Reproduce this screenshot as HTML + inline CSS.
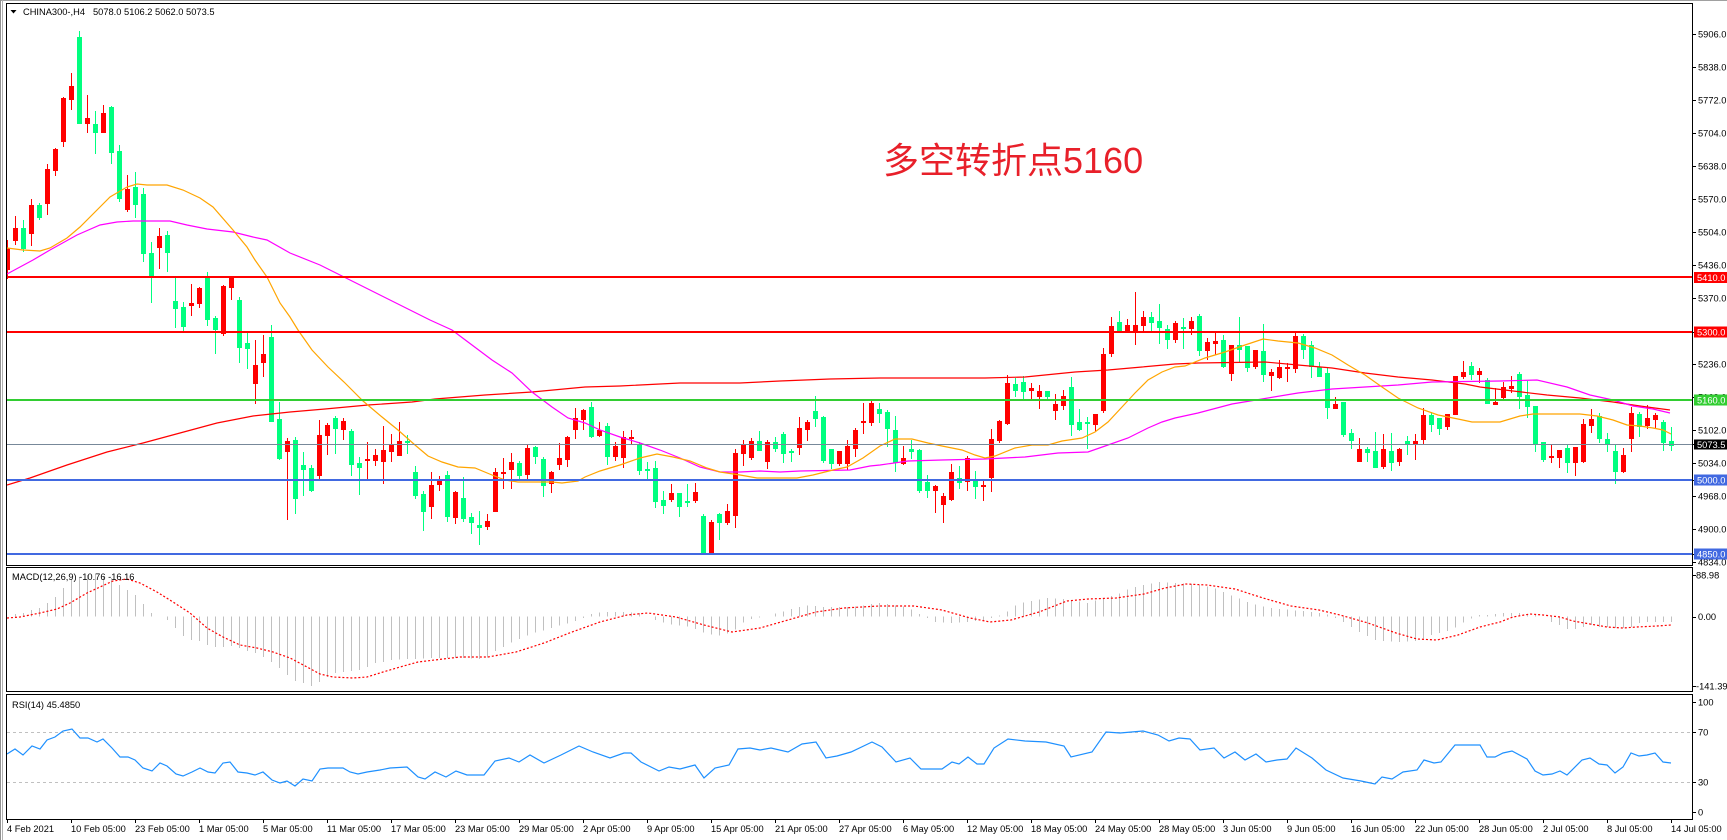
<!DOCTYPE html>
<html><head><meta charset="utf-8">
<style>
html,body{margin:0;padding:0;background:#fff;}
svg{display:block;}
text{font-family:"Liberation Sans","Noto Sans CJK SC",sans-serif;font-size:9.3px;fill:#000;}
.w{fill:#fff;}
</style></head><body>
<svg id="s" width="1727" height="840" viewBox="0 0 1727 840" xmlns="http://www.w3.org/2000/svg">
<defs>
<clipPath id="cm"><rect x="7" y="4" width="1685" height="561"/></clipPath>
<clipPath id="cd"><rect x="7" y="568" width="1685" height="123"/></clipPath>
<clipPath id="cr"><rect x="7" y="695" width="1685" height="124"/></clipPath>
</defs>
<rect width="1727" height="840" fill="#fff"/>
<g id="main" clip-path="url(#cm)"></g>
<g id="macd" clip-path="url(#cd)"></g>
<g id="rsi" clip-path="url(#cr)"></g>

<!-- horizontal level lines -->
<g shape-rendering="crispEdges">
<rect x="7" y="276" width="1685" height="2" fill="#ff0000"/>
<rect x="7" y="331" width="1685" height="2" fill="#ff0000"/>
<rect x="7" y="399" width="1685" height="2" fill="#32cd32"/>
<rect x="7" y="444" width="1685" height="1" fill="#778899"/>
<rect x="7" y="479" width="1685" height="2" fill="#4169e1"/>
<rect x="7" y="553" width="1685" height="2" fill="#4169e1"/>
</g>

<!-- frames -->
<g fill="none" stroke="#000" stroke-width="1" shape-rendering="crispEdges">
<line x1="0" y1="0.5" x2="1727" y2="0.5" stroke="#a0a0a0"/>
<line x1="0.5" y1="0" x2="0.5" y2="840" stroke="#909090"/>
<line x1="2.5" y1="0" x2="2.5" y2="840" stroke="#b0b0b0"/>
<rect x="6.5" y="3.5" width="1686" height="562"/>
<rect x="6.5" y="567.5" width="1686" height="124"/>
<rect x="6.5" y="694.5" width="1686" height="125"/>
</g>

<!-- header -->
<polygon points="10.5,10 16.5,10 13.5,13.5" fill="#000"/>
<text x="23" y="15">CHINA300-,H4</text>
<text x="93" y="15">5078.0 5106.2 5062.0 5073.5</text>
<text x="12" y="580">MACD(12,26,9) -10.76 -16.16</text>
<text x="12" y="708">RSI(14) 45.4850</text>

<text x="883" y="173" style="font-size:36px;fill:#e8202a;font-family:'Liberation Sans','Noto Sans CJK SC',sans-serif;">多空转折点5160</text>

<!-- right axis ticks -->
<g stroke="#000" stroke-width="1" shape-rendering="crispEdges" id="ticks"></g>
<g>
<text x="1698" y="37.5">5906.0</text>
<text x="1698" y="70.5">5838.0</text>
<text x="1698" y="103.5">5772.0</text>
<text x="1698" y="136.5">5704.0</text>
<text x="1698" y="169.5">5638.0</text>
<text x="1698" y="202.5">5570.0</text>
<text x="1698" y="235.5">5504.0</text>
<text x="1698" y="268.5">5436.0</text>
<text x="1698" y="301.5">5370.0</text>
<text x="1698" y="367.5">5236.0</text>
<text x="1698" y="400.5">5168.0</text>
<text x="1698" y="433.5">5102.0</text>
<text x="1698" y="466.5">5034.0</text>
<text x="1698" y="499.5">4968.0</text>
<text x="1698" y="532.5">4900.0</text>
<text x="1698" y="565.5">4834.0</text>
</g>
<g shape-rendering="crispEdges">
<rect x="1694" y="272" width="33" height="11" fill="#ff0000"/>
<rect x="1694" y="326.5" width="33" height="11" fill="#ff0000"/>
<rect x="1694" y="394.5" width="33" height="11" fill="#32cd32"/>
<rect x="1694" y="439.5" width="33" height="10" fill="#000000"/>
<rect x="1694" y="474.5" width="33" height="11" fill="#4169e1"/>
<rect x="1694" y="548.5" width="33" height="11" fill="#4169e1"/>
</g>
<text class="w" x="1697" y="281">5410.0</text>
<text class="w" x="1697" y="335.5">5300.0</text>
<text class="w" x="1697" y="403.5">5160.0</text>
<text class="w" x="1697" y="448">5073.5</text>
<text class="w" x="1697" y="483.5">5000.0</text>
<text class="w" x="1697" y="557.5">4850.0</text>

<text x="1696" y="578.5">88.98</text>
<text x="1698" y="620">0.00</text>
<text x="1696" y="689.5">-141.39</text>
<text x="1698" y="705.5">100</text>
<text x="1698" y="735.5">70</text>
<text x="1698" y="785.5">30</text>
<text x="1698" y="815.5">0</text>

<!-- x axis -->
<g id="xt" stroke="#000" stroke-width="1" shape-rendering="crispEdges"></g>
<g>
<text x="7" y="832">4 Feb 2021</text>
<text x="71" y="832">10 Feb 05:00</text>
<text x="135" y="832">23 Feb 05:00</text>
<text x="199" y="832">1 Mar 05:00</text>
<text x="263" y="832">5 Mar 05:00</text>
<text x="327" y="832">11 Mar 05:00</text>
<text x="391" y="832">17 Mar 05:00</text>
<text x="455" y="832">23 Mar 05:00</text>
<text x="519" y="832">29 Mar 05:00</text>
<text x="583" y="832">2 Apr 05:00</text>
<text x="647" y="832">9 Apr 05:00</text>
<text x="711" y="832">15 Apr 05:00</text>
<text x="775" y="832">21 Apr 05:00</text>
<text x="839" y="832">27 Apr 05:00</text>
<text x="903" y="832">6 May 05:00</text>
<text x="967" y="832">12 May 05:00</text>
<text x="1031" y="832">18 May 05:00</text>
<text x="1095" y="832">24 May 05:00</text>
<text x="1159" y="832">28 May 05:00</text>
<text x="1223" y="832">3 Jun 05:00</text>
<text x="1287" y="832">9 Jun 05:00</text>
<text x="1351" y="832">16 Jun 05:00</text>
<text x="1415" y="832">22 Jun 05:00</text>
<text x="1479" y="832">28 Jun 05:00</text>
<text x="1543" y="832">2 Jul 05:00</text>
<text x="1607" y="832">8 Jul 05:00</text>
<text x="1671" y="832">14 Jul 05:00</text>
</g>
</svg>
<script>
(function(){
var NS="http://www.w3.org/2000/svg";
function el(p,t,a){var e=document.createElementNS(NS,t);for(var k in a)e.setAttribute(k,a[k]);p.appendChild(e);return e;}
var C=[[1,248,269,240,278],[1,228,240,216,244],[0,228,248,220,251],[1,205,233,199,245],[0,205,217,203,219],[1,169,203,164,214],[1,149,170,148,175],[1,98,141,97,146],[1,86,99,73,109],[0,37,123,31,123],
[1,118,123,95,132],[0,124,132,111,153],[1,113,132,105,132],[0,107,152,106,163],[0,151,198,145,201],[1,189,209,175,211],[0,187,204,172,217],[0,194,253,188,261],[0,253,275,242,302],[1,236,247,228,268],
[0,235,252,231,271],[0,301,308,278,327],[0,307,326,302,332],[1,303,305,284,315],[1,288,303,287,307],[0,278,319,272,325],[0,318,329,316,353],[1,286,333,285,335],[1,278,287,276,299],[0,300,347,297,362],
[0,343,348,333,368],[1,365,383,340,403],[1,354,362,335,376],[0,337,421,325,421],[0,419,458,402,459],[1,441,451,438,519],[0,440,498,437,513],[0,465,469,452,495],[0,468,490,465,491],[1,435,475,420,478],
[1,425,435,423,454],[0,418,428,416,453],[1,421,429,418,439],[0,431,464,429,475],[0,463,467,457,494],[1,459,460,442,479],[1,455,460,449,465],[1,450,461,426,483],[1,444,451,434,461],[1,441,455,422,455],
[0,441,442,435,453],[0,472,495,466,498],[0,494,511,491,530],[1,485,506,472,518],[1,480,484,476,490],[0,475,516,471,521],[1,492,517,491,523],[0,498,518,477,521],[0,517,522,513,533],[0,525,527,511,544],
[1,521,526,514,529],[1,472,511,468,511],[1,472,473,458,488],[1,462,469,453,488],[0,463,475,461,480],[1,448,474,444,479],[0,447,456,446,463],[0,459,485,457,496],[1,472,483,471,492],[1,458,464,443,469],
[1,437,459,436,466],[1,418,429,408,438],[1,410,419,409,429],[0,407,436,402,437],[1,430,435,422,436],[0,426,456,423,464],[1,446,456,442,460],[1,437,457,431,467],[1,437,438,430,443],[0,444,470,442,474],
[0,469,470,462,479],[0,468,501,461,507],[0,500,505,491,513],[1,493,499,484,501],[0,493,506,493,516],[0,501,502,484,506],[1,492,500,483,502],[0,516,552,514,552],[1,522,552,520,552],[0,514,522,513,539],
[1,511,522,504,524],[1,453,515,449,527],[1,444,453,440,465],[1,441,457,438,459],[0,441,450,431,450],[1,442,461,440,468],[0,442,448,437,451],[0,434,453,432,462],[0,451,452,449,461],[1,428,447,417,454],
[1,422,429,420,440],[0,411,418,396,426],[0,417,460,416,462],[0,449,463,449,468],[1,451,463,451,465],[1,446,463,440,469],[1,430,448,428,456],[1,421,422,403,433],[1,403,422,399,425],[0,409,413,403,422],
[0,412,428,410,446],[0,430,462,416,471],[1,458,463,446,464],[0,449,451,440,458],[0,450,490,449,492],[0,482,490,475,497],[1,486,490,485,512],[1,496,504,493,522],[1,472,499,464,500],[0,478,482,466,488],
[1,458,481,456,490],[0,480,486,471,498],[1,485,486,481,500],[1,439,477,429,491],[1,421,440,420,442],[1,383,423,375,424],[0,384,390,378,396],[0,382,391,376,399],[1,388,390,383,399],[1,391,396,385,408],
[0,391,396,391,399],[1,404,410,394,419],[1,396,405,390,409],[0,387,424,377,435],[0,422,429,409,430],[0,422,423,417,448],[1,414,424,414,430],[1,354,410,348,412],[1,326,353,317,356],[0,322,330,311,332],
[1,325,331,319,332],[1,325,330,292,344],[1,317,325,311,332],[0,317,322,312,332],[0,321,327,304,343],[0,329,339,325,348],[1,323,339,321,342],[0,327,328,318,348],[1,321,328,317,334],[0,316,350,314,355],
[1,342,350,338,359],[1,341,343,332,354],[0,340,366,335,367],[1,345,373,345,380],[0,345,349,317,362],[0,346,367,346,371],[1,350,366,350,368],[0,351,374,324,381],[1,372,375,369,390],[1,367,377,360,378],
[1,367,368,363,381],[1,336,368,332,372],[0,336,349,334,358],[0,345,366,341,377],[0,367,376,362,376],[0,373,407,368,418],[1,404,408,397,408],[0,402,434,402,436],[0,433,440,429,448],[1,449,461,438,461],
[0,449,452,447,461],[0,451,467,432,467],[1,449,466,434,468],[0,451,462,433,470],[1,449,461,448,465],[0,441,444,436,454],[1,441,444,434,459],[1,415,439,408,444],[0,415,424,412,431],[0,418,428,418,434],
[1,414,426,414,429],[1,376,414,376,414],[1,372,376,361,378],[0,366,374,362,379],[1,371,374,368,382],[0,380,403,378,403],[1,402,404,388,404],[1,387,397,382,398],[1,386,388,376,392],[0,374,396,372,408],
[0,395,406,381,417],[0,406,443,406,451],[0,442,459,442,461],[1,456,457,445,462],[1,450,457,450,467],[0,448,462,445,472],[1,447,462,447,475],[1,424,461,419,462],[1,419,425,409,432],[0,416,438,413,442],
[0,439,444,433,451],[0,451,471,445,483],[1,455,471,448,472],[1,413,438,407,451],[0,414,426,412,436],[1,418,425,405,428],[1,415,419,413,428],[0,422,442,420,450],[0,441,445,427,450]];

var OR=[[7,248],[23,250],[40,251],[50,248],[67,238],[80,227],[100,207],[110,197],[127,187],[137,184],[147,185],[167,185],[183,190],[200,198],[213,207],[233,230],[247,247],[255,260],[267,277],[280,303],[290,317],[298,330],[312,350],[328,367],[345,383],[363,401],[382,417],[398,430],[415,445],[428,456],[442,462],[458,467],[475,468],[492,475],[505,480],[518,482],[552,482],[562,483],[578,481],[585,477],[600,471],[620,465],[640,458],[657,454],[673,457],[690,461],[707,468],[720,472],[740,475],[757,478],[797,478],[813,475],[833,470],[847,467],[863,458],[880,446],[895,439],[912,439],[928,443],[942,446],[962,450],[975,455],[985,458],[995,456],[1015,448],[1032,445],[1048,445],[1062,441],[1082,438],[1095,432],[1108,422],[1122,407],[1135,393],[1148,380],[1162,372],[1175,367],[1185,366],[1205,358],[1225,352],[1245,345],[1263,339],[1278,341],[1298,343],[1315,348],[1332,355],[1348,365],[1365,375],[1382,387],[1398,398],[1418,408],[1438,415],[1458,419],[1472,422],[1500,422],[1520,416],[1533,414],[1580,414],[1597,416],[1613,420],[1627,425],[1640,426],[1653,428],[1663,430],[1671,434]];
var MG=[[7,274],[33,260],[50,250],[77,235],[100,225],[117,222],[133,221],[170,221],[187,225],[207,229],[233,232],[253,237],[267,240],[290,253],[320,265],[350,280],[380,295],[410,310],[430,320],[452,330],[472,345],[492,360],[512,373],[532,392],[552,407],[568,418],[585,423],[600,430],[620,437],[640,443],[660,450],[680,458],[700,467],[720,472],[740,472],[760,471],[780,472],[800,471],[850,470],[870,466],[880,465],[908,461],[942,460],[985,459],[1025,457],[1058,453],[1088,452],[1108,445],[1128,438],[1148,428],[1162,422],[1175,418],[1198,413],[1232,404],[1262,399],[1298,393],[1332,389],[1365,387],[1398,385],[1432,382],[1500,381],[1537,380],[1567,387],[1590,395],[1613,400],[1633,406],[1653,409],[1670,413]];
var RD=[[7,485],[30,478],[67,465],[107,452],[143,443],[180,433],[217,423],[253,416],[290,412],[325,409],[368,405],[412,402],[435,399],[485,395],[532,392],[585,387],[620,386],[680,383],[740,383],[780,381],[830,379],[880,378],[985,378],[1025,377],[1075,372],[1108,370],[1142,367],[1175,364],[1198,363],[1265,362],[1298,365],[1332,368],[1365,373],[1398,377],[1432,380],[1465,384],[1480,387],[1513,391],[1547,395],[1580,398],[1613,402],[1640,406],[1670,410]];
var H=[[7,616],[15,614],[23,613],[31,610],[39,608],[47,603],[55,597],[63,588],[71,580],[79,577],[87,575],[95,574],[103,577],[111,578],[119,585],[127,590],[135,595],[143,604],[151,613],[159,617],[167,620],[175,628],[183,636],[191,640],[199,641],[207,645],[215,647],[223,647],[231,646],[239,648],[247,651],[255,653],[263,657],[271,662],[279,668],[287,675],[295,681],[303,683],[311,686],[319,682],[327,677],[335,673],[343,672],[351,671],[359,670],[367,667],[375,663],[383,662],[391,660],[430,658],[460,658],[485,659],[495,651],[512,642],[530,634],[551,628],[572,622],[586,617],[593,613],[606,612],[627,612],[641,613],[655,620],[669,624],[690,627],[704,633],[718,636],[732,632],[746,620],[767,616],[781,612],[795,608],[809,605],[823,607],[851,607],[879,603],[907,607],[921,615],[935,622],[956,623],[984,620],[1005,614],[1011,607],[1025,602],[1046,598],[1067,599],[1088,603],[1102,598],[1116,595],[1130,588],[1144,585],[1158,582],[1172,583],[1193,584],[1214,588],[1228,594],[1249,603],[1270,608],[1291,610],[1305,611],[1326,614],[1340,620],[1361,633],[1375,640],[1396,642],[1417,641],[1431,635],[1451,630],[1465,621],[1479,615],[1487,615],[1495,614],[1503,613],[1511,613],[1519,613],[1527,614],[1535,615],[1543,617],[1551,622],[1559,625],[1567,629],[1575,629],[1583,627],[1591,625],[1599,627],[1607,627],[1615,628],[1623,628],[1631,627],[1639,623],[1647,622],[1655,622],[1663,622],[1671,622]];
var SG=[[7,618],[20,617],[40,613],[57,609],[70,603],[87,593],[100,587],[113,581],[127,579],[140,583],[157,592],[173,602],[190,613],[207,628],[223,637],[240,645],[257,648],[273,652],[290,658],[307,667],[320,674],[333,677],[353,678],[367,677],[383,672],[400,667],[418,662],[460,657],[488,657],[516,652],[544,643],[572,632],[600,622],[627,615],[648,613],[676,617],[704,625],[732,632],[760,628],[788,620],[816,612],[844,608],[879,606],[914,606],[942,610],[970,618],[990,622],[1011,620],[1039,612],[1067,601],[1088,599],[1116,598],[1144,594],[1165,588],[1186,584],[1207,585],[1235,589],[1263,598],[1291,606],[1319,610],[1340,615],[1368,623],[1396,633],[1417,639],[1437,640],[1458,635],[1480,627],[1500,622],[1513,617],[1530,614],[1543,615],[1560,617],[1573,621],[1590,624],[1607,627],[1623,628],[1637,627],[1657,626],[1671,625]];
var RS=[[7,754],[15,749],[23,755],[32,746],[40,749],[47,740],[55,737],[63,731],[72,729],[80,738],[88,738],[97,742],[103,739],[112,748],[120,757],[128,757],[135,760],[143,768],[152,771],[160,763],[167,766],[176,774],[183,776],[192,772],[200,768],[208,772],[215,773],[223,763],[230,762],[238,772],[247,773],[255,775],[263,772],[272,780],[280,783],[287,781],[295,786],[303,779],[312,781],[320,769],[328,768],[343,768],[350,772],[358,774],[367,772],[380,770],[390,768],[407,767],[418,777],[425,779],[435,772],[446,777],[456,771],[467,775],[484,775],[495,761],[509,758],[519,762],[530,755],[544,763],[561,755],[579,746],[593,752],[610,758],[624,753],[631,753],[641,762],[659,771],[669,767],[680,769],[695,765],[704,778],[715,768],[729,765],[738,749],[750,748],[760,750],[771,748],[788,752],[802,744],[816,742],[826,758],[837,756],[851,752],[872,742],[882,747],[896,762],[910,758],[921,769],[942,769],[952,762],[959,764],[968,757],[977,764],[984,764],[994,748],[1008,739],[1025,741],[1046,742],[1064,746],[1071,757],[1092,752],[1106,732],[1120,733],[1143,731],[1158,735],[1169,741],[1179,738],[1190,739],[1200,750],[1214,748],[1224,758],[1235,752],[1245,760],[1256,754],[1266,762],[1277,760],[1287,759],[1296,748],[1312,758],[1326,770],[1343,778],[1361,781],[1375,784],[1382,777],[1392,779],[1403,772],[1417,770],[1424,760],[1434,763],[1441,762],[1455,745],[1480,745],[1487,757],[1495,757],[1503,753],[1512,751],[1527,759],[1535,771],[1543,775],[1552,774],[1560,771],[1567,775],[1582,760],[1590,758],[1599,764],[1607,765],[1615,773],[1623,767],[1631,753],[1639,756],[1647,755],[1655,753],[1663,762],[1671,763]];

function ptsStr(a){return a.map(function(p){return p[0]+','+p[1];}).join(' ');}
function interp(a,x){if(x<=a[0][0])return a[0][1];for(var k=1;k<a.length;k++){if(x<=a[k][0]){var p=a[k-1],q=a[k];return p[1]+(q[1]-p[1])*(x-p[0])/(q[0]-p[0]);}}return a[a.length-1][1];}

var main=document.getElementById('main');
var cg=el(main,'g',{'shape-rendering':'crispEdges'});
for(var i=0;i<C.length;i++){
  var d=C[i],cx=7+8*i,col=d[0]?'#ff0000':'#00ff7f';
  el(cg,'rect',{x:cx,y:d[3],width:1,height:Math.max(1,d[4]-d[3]+1),fill:col});
  el(cg,'rect',{x:cx-2,y:d[1],width:5,height:Math.max(1,d[2]-d[1]+1),fill:col});
}
el(main,'polyline',{points:ptsStr(RD),fill:'none',stroke:'#ff0000','stroke-width':1.2});
el(main,'polyline',{points:ptsStr(MG),fill:'none',stroke:'#ff00ff','stroke-width':1.2});
el(main,'polyline',{points:ptsStr(OR),fill:'none',stroke:'#ffa500','stroke-width':1.2});

var macd=document.getElementById('macd');
var hg=el(macd,'g',{'shape-rendering':'crispEdges'});
var z=616.5;
for(var j=0;j<209;j++){
  var x=7+8*j,y=interp(H,x);
  var t=Math.min(y,z),h=Math.abs(y-z);
  if(h<0.6)continue;
  el(hg,'rect',{x:x,y:t,width:1,height:h,fill:'#c0c0c0'});
}
el(macd,'polyline',{points:ptsStr(SG),fill:'none',stroke:'#ff0000','stroke-width':1.2,'stroke-dasharray':'2,2'});

var rsi=document.getElementById('rsi');
el(rsi,'line',{x1:7,y1:732.5,x2:1692,y2:732.5,stroke:'#c0c0c0','stroke-width':1,'stroke-dasharray':'3,3'});
el(rsi,'line',{x1:7,y1:782.5,x2:1692,y2:782.5,stroke:'#c0c0c0','stroke-width':1,'stroke-dasharray':'3,3'});
el(rsi,'polyline',{points:ptsStr(RS),fill:'none',stroke:'#1e90ff','stroke-width':1.2});

var tk=document.getElementById('ticks');
[34,67,100,133,166,199,232,265,298,332,364,397,430,444,463,480,496,529,554,562,575,617,686,702,732,782,812].forEach(function(y){
  el(tk,'line',{x1:1692,y1:y+0.5,x2:1696,y2:y+0.5});
});
var xt=document.getElementById('xt');
for(var m=0;m<27;m++){var xx=(m==0?7:71+64*(m-1))+0.5;el(xt,'line',{x1:xx,y1:819,x2:xx,y2:823});}
})();
</script>
</body></html>
